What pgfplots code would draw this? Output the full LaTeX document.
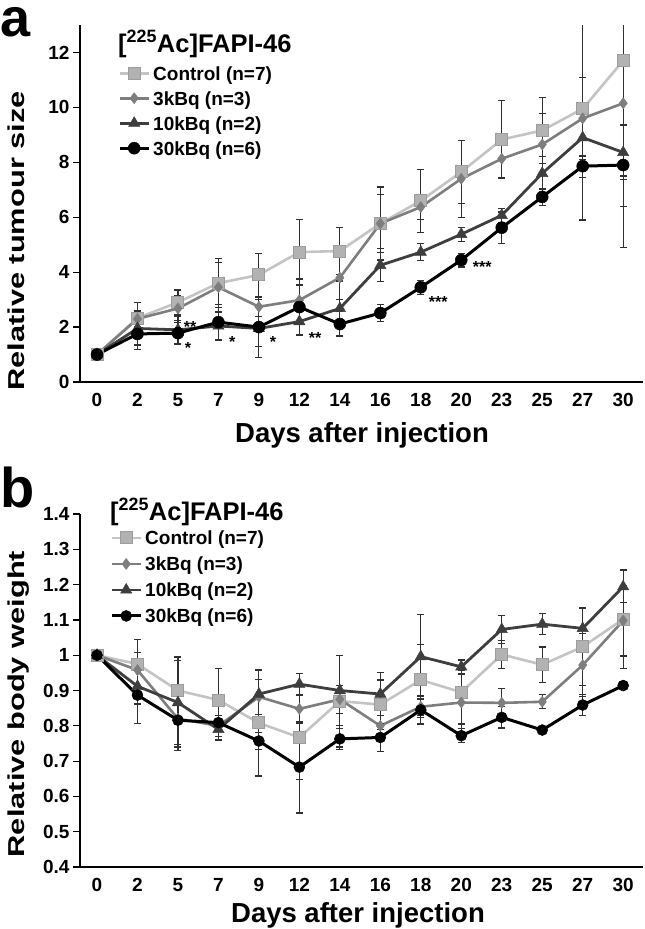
\documentclass[border=0pt]{standalone}
\usepackage{pgfplots}
\pgfplotsset{compat=1.18}
\usepackage{pgfplotstable}
\usepackage{graphicx}
\usepackage{fontspec}
\setmainfont{Liberation Sans}
\definecolor{cctrlL}{HTML}{C4C4C4}
\definecolor{cctrlF}{HTML}{B2B2B2}
\definecolor{cctrlD}{HTML}{9C9C9C}
\definecolor{cthree}{HTML}{7E7E7E}
\definecolor{cten}{HTML}{3E3E3E}
\definecolor{cerr}{HTML}{303030}

% ---------- panel a: relative tumour size ----------
\pgfplotstableread{
x y e
0 1.00 0
1 2.33 0.57
2 2.90 0.45
3 3.60 0.90
4 3.90 0.78
5 4.73 1.20
6 4.77 0.85
7 5.77 1.33
8 6.60 1.15
9 7.65 1.15
10 8.83 1.42
11 9.16 1.20
12 9.95 4.05
13 11.70 6.80
}\ctrlA
\pgfplotstableread{
x y e
0 1.00 0
1 2.30 0.30
2 2.68 0.45
3 3.45 0.90
4 2.74 0.35
5 2.98 0.80
6 3.80 0.80
7 5.77 1.05
8 6.37 0.45
9 7.40 1.40
10 8.13 0.70
11 8.65 1.13
12 9.60 1.50
13 10.15 3.75
}\threeA
\pgfplotstableread{
x y e
0 1.00 0
1 1.95 0.60
2 1.90 0.50
3 2.04 0.50
4 1.95 1.05
5 2.20 0.50
6 2.68 1.00
7 4.25 0.60
8 4.73 0.30
9 5.38 0.25
10 6.07 0.25
11 7.60 0.60
12 8.90 0.70
13 8.36 1.00
}\tenA
\pgfplotstableread{
x y e
0 1.00 0
1 1.75 0.58
2 1.78 0.40
3 2.18 0.65
4 2.00 0.72
5 2.73 1.00
6 2.11 0.45
7 2.51 0.30
8 3.45 0.25
9 4.44 0.25
10 5.62 0.57
11 6.74 0.30
12 7.86 0.40
13 7.90 0.40
}\thirtyA

% ---------- panel b: relative body weight ----------
\pgfplotstableread{
x y e
0 1.000 0
1 0.975 0.07
2 0.900 0.095
3 0.873 0.09
4 0.808 0.15
5 0.767 0.12
6 0.870 0.13
7 0.860 0.07
8 0.930 0.10
9 0.895 0.09
10 1.002 0.04
11 0.973 0.05
12 1.024 0.11
13 1.102 0.14
}\ctrlB
\pgfplotstableread{
x y e
0 1.000 0
1 0.958 0.05
2 0.820 0.08
3 0.800 0.03
4 0.882 0.05
5 0.848 0.04
6 0.875 0.04
7 0.800 0.03
8 0.854 0.03
9 0.866 0.09
10 0.865 0.04
11 0.868 0.02
12 0.972 0.09
13 1.098 0.10
}\threeB
\pgfplotstableread{
x y e
0 1.000 0
1 0.912 0.05
2 0.866 0.12
3 0.790 0.03
4 0.890 0.07
5 0.918 0.03
6 0.900 0.10
7 0.890 0.06
8 0.996 0.12
9 0.967 0.02
10 1.073 0.04
11 1.088 0.03
12 1.076 0.06
13 1.194 0.045
}\tenB
\pgfplotstableread{
x y e
0 1.000 0
1 0.887 0.08
2 0.816 0.085
3 0.809 0.05
4 0.757 0.025
5 0.683 0.13
6 0.763 0.03
7 0.767 0.04
8 0.845 0.04
9 0.772 0.02
10 0.824 0.03
11 0.788 0.01
12 0.859 0.03
13 0.914 0.01
}\thirtyB

\pgfplotsset{
  base/.style={
    scale only axis, width=563pt,
    axis x line*=bottom, axis y line*=left,
    axis line style={black, line width=1.3pt, -},
    xmin=-0.42, xmax=13.49,
    xtick={0,...,13},
    xticklabels={0,2,5,7,9,12,14,16,18,20,23,25,27,30},
    tick align=outside,
    major tick length=7pt,
    ytick style={black, line width=1.2pt},
    xtick style={draw=none},
    tick label style={font=\bfseries\fontsize{19}{19}\selectfont},
    xticklabel style={text height=13.8pt, text depth=0pt},
    /pgf/number format/assume math mode=true,
    legend cell align=left,
    legend style={draw=none, fill=none, inner sep=0pt, anchor=north west,
      font=\bfseries\fontsize{19}{19}\selectfont,
      nodes={inner sep=0pt, text height=13.6pt, text depth=0pt},
      column sep=3pt},
    legend image code/.code={\draw[mark repeat=2,mark phase=2] plot coordinates {(0pt,0pt) (14.5pt,0pt) (29pt,0pt)};},
  },
  ctrl/.style={color=cctrlL, line width=2.6pt, mark=square*, mark size=6pt,
    mark options={fill=cctrlF, draw=cctrlD, line width=1pt, solid}},
  kthree/.style={color=cthree, line width=2.6pt, mark=diamond*, mark size=5.5pt,
    mark options={fill=cthree, draw=cthree, line width=0.5pt, solid}},
  kten/.style={color=cten, line width=2.8pt, mark=triangle*, mark size=6.5pt,
    mark options={fill=cten, draw=cten, line width=0.5pt, solid}},
  kthirty/.style={color=black, line width=3pt, mark=*, mark size=6pt,
    mark options={fill=black, draw=black, line width=0.5pt, solid}},
  errs/.style={error bars/.cd, y dir=both, y explicit,
    error bar style={cerr, line width=1.2pt},
    error mark options={rotate=90, cerr, mark size=3.5pt, line width=1.2pt}},
}

\begin{document}
\begin{tikzpicture}
\useasboundingbox (0,0) rectangle (645pt,-929pt);

% ===== panel a =====
\begin{axis}[base, height=357pt, at={(80pt,-382pt)}, anchor=south west,
  ymin=0, ymax=13, ytick={0,2,4,6,8,10,12},
  legend style={at={(0.0675,0.8846)}, row sep=11.4pt}]
\addplot[ctrl, errs] table[x=x, y=y, y error=e] {\ctrlA};
\addlegendentry{Control (n=7)}
\addplot[kthree, errs] table[x=x, y=y, y error=e] {\threeA};
\addlegendentry{3kBq (n=3)}
\addplot[kten, errs] table[x=x, y=y, y error=e] {\tenA};
\addlegendentry{10kBq (n=2)}
\addplot[kthirty, errs] table[x=x, y=y, y error=e] {\thirtyA};
\addlegendentry{30kBq (n=6)}
\begin{scope}[every node/.style={anchor=base, inner sep=0pt, font=\bfseries\fontsize{16}{16}\selectfont}]
\node at (axis cs:2.30,1.82) {**};
\node at (axis cs:2.25,1.02) {*};
\node at (axis cs:3.34,1.27) {*};
\node at (axis cs:4.35,1.27) {*};
\node at (axis cs:5.39,1.42) {**};
\node at (axis cs:8.43,2.73) {***};
\node at (axis cs:9.52,3.97) {***};
\end{scope}
\end{axis}

% ===== panel b =====
\begin{axis}[base, height=353pt, at={(80pt,-867pt)}, anchor=south west,
  ymin=0.4, ymax=1.4,
  ytick={0.4,0.5,0.6,0.7,0.8,0.9,1,1.1,1.2,1.3,1.4},
  yticklabels={0.4,0.5,0.6,0.7,0.8,0.9,1,1.1,1.2,1.3,1.4},
  legend style={at={(0.0533,0.952)}, row sep=12.4pt}]
\addplot[ctrl, errs] table[x=x, y=y, y error=e] {\ctrlB};
\addlegendentry{Control (n=7)}
\addplot[kthree, errs] table[x=x, y=y, y error=e] {\threeB};
\addlegendentry{3kBq (n=3)}
\addplot[kten, errs] table[x=x, y=y, y error=e] {\tenB};
\addlegendentry{10kBq (n=2)}
\addplot[kthirty, mark size=5.5pt, errs] table[x=x, y=y, y error=e] {\thirtyB};
\addlegendentry{30kBq (n=6)}
\end{axis}

% ===== free text =====
\node[anchor=base west, inner sep=0pt, font=\bfseries\fontsize{54}{54}\selectfont] at (0pt,-36pt) {\smash{a}};
\node[anchor=base west, inner sep=0pt, font=\bfseries\fontsize{56}{56}\selectfont] at (0pt,-507pt) {b};
\node[anchor=base west, inner sep=0pt, font=\bfseries\fontsize{25.5}{25.5}\selectfont] at (118pt,-52pt) {[\textsuperscript{225}Ac]FAPI-46};
\node[anchor=base west, inner sep=0pt, font=\bfseries\fontsize{25.5}{25.5}\selectfont] at (110pt,-520pt) {[\textsuperscript{225}Ac]FAPI-46};
\node[rotate=90, anchor=north, inner sep=0pt, font=\bfseries\fontsize{23}{23}\selectfont] at (8pt,-241pt) {\scalebox{1.34}[1]{Relative tumour size}};
\node[rotate=90, anchor=north, inner sep=0pt, font=\bfseries\fontsize{23}{23}\selectfont] at (8pt,-704pt) {\scalebox{1.34}[1]{Relative body weight}};
\node[anchor=base, inner sep=0pt, font=\bfseries\fontsize{27.5}{27.5}\selectfont] at (362pt,-442pt) {Days after injection};
\node[anchor=base, inner sep=0pt, font=\bfseries\fontsize{27.5}{27.5}\selectfont] at (358pt,-922pt) {Days after injection};
\end{tikzpicture}
\end{document}
